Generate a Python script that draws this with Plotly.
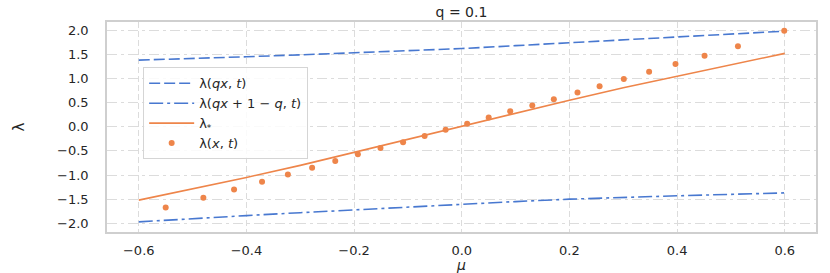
import plotly.graph_objects as go

# ---- data ----
mu_line = [-0.6, -0.5, -0.4, -0.3, -0.2, -0.1, 0.0, 0.1, 0.2, 0.3, 0.4, 0.5, 0.6]
lam_qx = [1.38, 1.41, 1.45, 1.49, 1.53, 1.57, 1.62, 1.68, 1.74, 1.80, 1.87, 1.93, 1.98]
lam_qx1 = [-1.97, -1.90, -1.84, -1.78, -1.72, -1.66, -1.60, -1.55, -1.50, -1.46, -1.43, -1.40, -1.37]
lam_star = [-1.52, -1.29, -1.05, -0.80, -0.53, -0.26, 0.02, 0.29, 0.55, 0.81, 1.05, 1.29, 1.52]

mu_pts = [-0.550, -0.480, -0.423, -0.371, -0.323, -0.278, -0.235, -0.193, -0.151, -0.109,
          -0.069, -0.030, 0.010, 0.050, 0.090, 0.131, 0.171, 0.215, 0.256, 0.301,
          0.348, 0.397, 0.451, 0.513, 0.599]
lam_pts = [-1.67, -1.47, -1.30, -1.14, -0.99, -0.85, -0.71, -0.57, -0.44, -0.32,
           -0.19, -0.06, 0.06, 0.19, 0.32, 0.44, 0.57, 0.71, 0.84, 0.99,
           1.14, 1.30, 1.47, 1.67, 1.99]

x_ticks = [-0.6, -0.4, -0.2, 0.0, 0.2, 0.4, 0.6]
x_tick_labels = ["−0.6", "−0.4", "−0.2", "0.0", "0.2", "0.4", "0.6"]
y_ticks = [2.0, 1.5, 1.0, 0.5, 0.0, -0.5, -1.0, -1.5, -2.0]
y_tick_labels = ["2.0", "1.5", "1.0", "0.5", "0.0", "−0.5", "−1.0", "−1.5", "−2.0"]

BLUE = "#4878d0"
ORANGE = "#ee854a"
FONT = "DejaVu Sans"

fig = go.Figure()
fig.add_trace(go.Scatter(x=mu_line, y=lam_qx, mode="lines", name="λ(<i>qx</i>, <i>t</i>)",
                         line=dict(color=BLUE, width=1.6, dash="11px,4px")))
fig.add_trace(go.Scatter(x=mu_line, y=lam_qx1, mode="lines",
                         name="λ(<i>qx</i> + 1 − <i>q</i>, <i>t</i>)",
                         line=dict(color=BLUE, width=1.6, dash="14px,4px,3px,4px")))
fig.add_trace(go.Scatter(x=mu_line, y=lam_star, mode="lines", name="λ<sub>*</sub>",
                         line=dict(color=ORANGE, width=1.6)))
fig.add_trace(go.Scatter(x=mu_pts, y=lam_pts, mode="markers", name="λ(<i>x</i>, <i>t</i>)",
                         marker=dict(color=ORANGE, size=6)))

fig.update_layout(
    width=830, height=273,
    margin=dict(l=107, r=14, t=22, b=41, autoexpand=False),
    paper_bgcolor="white", plot_bgcolor="white",
    font=dict(family=FONT, size=13, color="#262626"),
    title=dict(text="q = 0.1", x=0.5, xref="paper", y=1 - 12 / 273, yref="container",
               xanchor="center", yanchor="middle", font=dict(size=14, color="#262626")),
    showlegend=True,
    legend=dict(x=0.051, y=0.784, xanchor="left", yanchor="top",
                bgcolor="rgba(255,255,255,0.85)", bordercolor="#d5d5d5", borderwidth=1,
                font=dict(size=13), tracegroupgap=0, itemwidth=45),
)
fig.update_xaxes(
    automargin=False,
    range=[-0.659, 0.658], tickvals=x_ticks, ticktext=x_tick_labels,
    showgrid=True, gridcolor="#dcdcdc", gridwidth=1.3, griddash="6px,3px",
    zeroline=False, showline=True, linecolor="#cfcfcf", linewidth=1.5, mirror=True,
    ticks="", ticklabelstandoff=6,
    title=dict(text="<i>μ</i>", standoff=0, font=dict(size=14)),
)
fig.update_yaxes(
    automargin=False,
    range=[-2.18, 2.17], tickvals=y_ticks, ticktext=y_tick_labels,
    showgrid=True, gridcolor="#dcdcdc", gridwidth=1.3, griddash="10px,4px,3px,4px",
    zeroline=False, showline=True, linecolor="#cfcfcf", linewidth=1.5, mirror=True,
    ticks="", ticklabelstandoff=14,
    title=dict(text="λ", standoff=29, font=dict(size=15)),
)

fig.write_html("out.html", config={"displayModeBar": False},
               post_script="document.body.style.margin='0';document.body.style.overflow='hidden';")
